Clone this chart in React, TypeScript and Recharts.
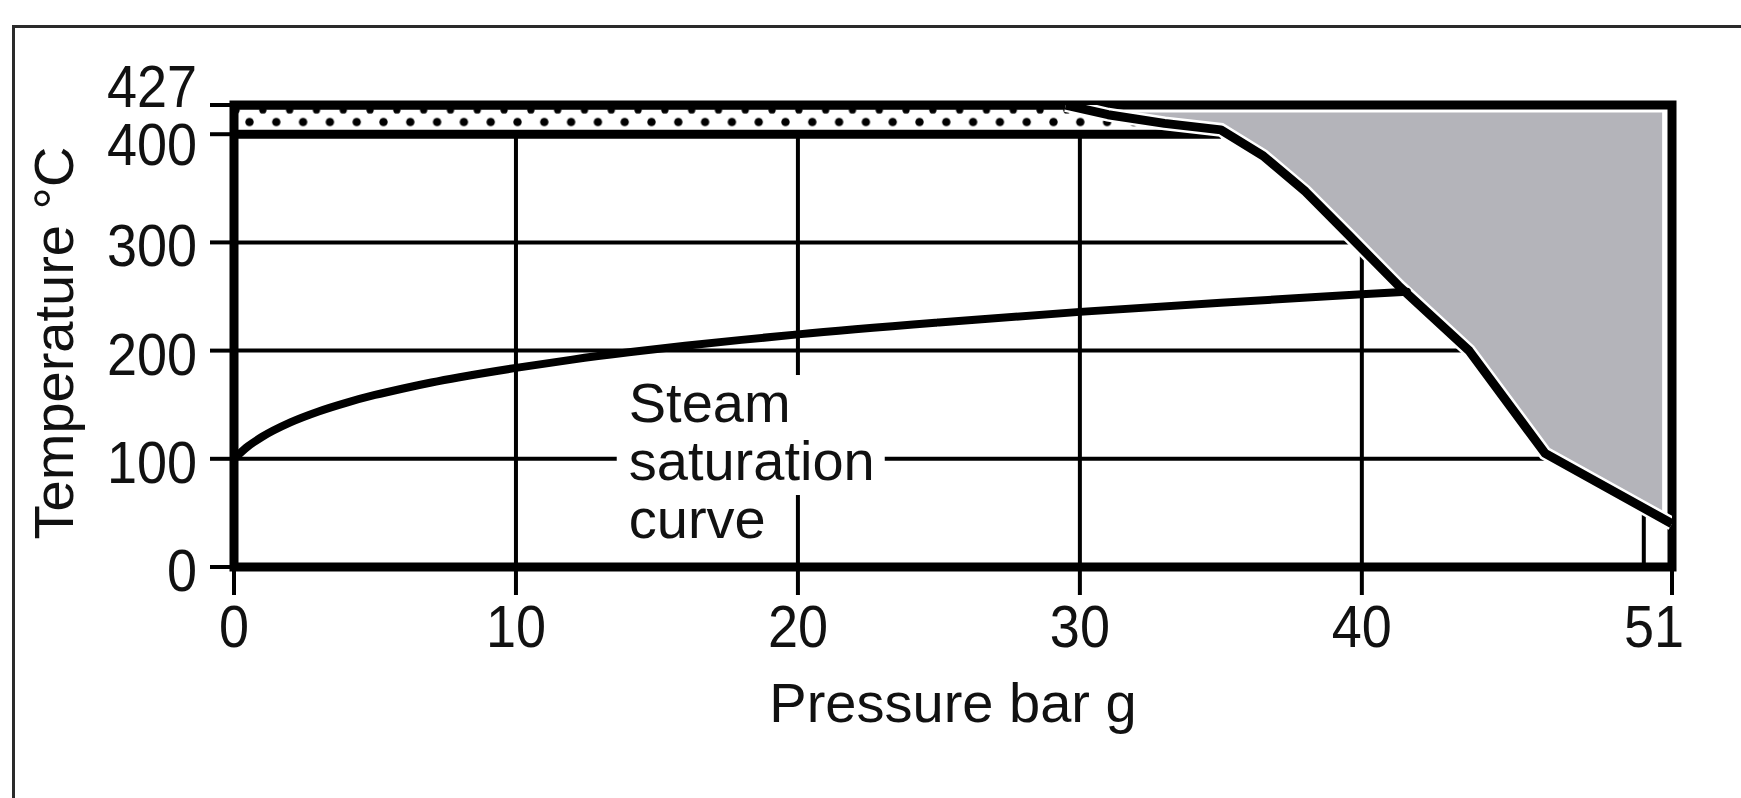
import {
  ComposedChart,
  Area,
  Line,
  XAxis,
  YAxis,
  CartesianGrid,
  ReferenceArea,
  ReferenceDot,
  Label,
} from "recharts";

const FONT = '"Liberation Sans", Arial, Helvetica, sans-serif';

// axis ticks
const xTicks = [0, 10, 20, 30, 40, 51];
const yTicks = [0, 100, 200, 300, 400, 427];
const gridX = [10, 20, 30, 40, 50];
const gridY = [100, 200, 300];

// steam saturation curve (bar g / degC)
const satPressure = [0, 0.5, 1, 2, 3, 4, 5, 6, 7, 8, 10, 12, 14, 16, 18, 20, 25, 30, 35, 40, 41.6];
const satTemp = [100, 111.6, 120.4, 133.7, 143.8, 152, 159, 165, 170.5, 175.4, 184, 191.7, 198.4, 204.4, 209.9, 215, 226, 235.8, 244.3, 252, 254.5];

// upper limit curve of the allowed region
const limitPressure = [29.5, 31, 33, 35, 36.5, 38, 39.6, 41.3, 43.8, 46.5, 51];
const limitTemp = [427, 418, 410, 404, 380, 347, 305, 260, 200, 105, 40];

// dotted band 400..427
const bandPressure = [0, 29.5, 31, 35];
const bandTop = [427, 427, 418, 404];
const bandBottom = 400;

// grey (not permitted) region
const greyPressure = [31, 33, 35, 36.5, 38, 39.6, 41.3, 43.8, 46.5, 50.65];
const greyLow = [418, 410, 404, 380, 347, 305, 260, 200, 105, 44];
const greyHigh = 420;

const satData = satPressure.map((p, i) => ({ p, t: satTemp[i] }));
const limitData = limitPressure.map((p, i) => ({ p, t: limitTemp[i] }));
const maskData = limitPressure.map((p, i) => ({ p, r: [limitTemp[i], 427] }));
const bandData = bandPressure.map((p, i) => ({ p, r: [bandBottom, bandTop[i]] }));
const greyData = greyPressure.map((p, i) => ({ p, r: [greyLow[i], greyHigh] }));

// tick numbers in the original are a little narrower than Arial
const Num = ({ x, y, anchor, children }: any) => (
  <text
    transform={`translate(${x}, ${y}) scale(0.9, 1)`}
    textAnchor={anchor}
    fontSize={60}
    fontFamily={FONT}
    fill="#111"
  >
    {children}
  </text>
);

const XTick = ({ x, y, payload }: any) => {
  const shift = payload.value === 51 ? -18 : 0;
  return (
    <Num x={x + shift} y={y + 50} anchor="middle">
      {payload.value}
    </Num>
  );
};

const YTick = ({ x, y, payload }: any) => {
  let shift = 3;
  if (payload.value === 427) shift = -19;
  if (payload.value === 400) shift = 10;
  return (
    <Num x={x} y={y + shift + 21} anchor="end">
      {payload.value}
    </Num>
  );
};

const SteamLabel = ({ cx, cy }: any) => (
  <g>
    <rect x={cx - 12} y={cy - 47} width={268} height={120} fill="#fff" />
    <rect x={cx - 12} y={cy + 73} width={160} height={60} fill="#fff" />
    <text fontSize={56} fontFamily={FONT} fill="#111">
      <tspan x={cx} y={cy}>Steam</tspan>
      <tspan x={cx} y={cy + 58}>saturation</tspan>
      <tspan x={cx} y={cy + 116}>curve</tspan>
    </text>
  </g>
);

export default function App() {
  return (
    <div
      style={{
        position: "absolute",
        left: 0,
        top: 0,
        width: 1741,
        height: 798,
        overflow: "hidden",
        background: "#fff",
      }}
    >
      <div
        style={{
          position: "absolute",
          left: 12,
          top: 25,
          width: 2000,
          height: 2000,
          border: "3px solid #2a2a2a",
        }}
      />
      <div style={{ position: "absolute", left: 0, top: 0 }}>
        <ComposedChart
          width={1741}
          height={798}
          margin={{ top: 105, right: 69, bottom: 101, left: 0 }}
        >
          <defs>
            <pattern id="dots" patternUnits="userSpaceOnUse" x={236.1} y={105} width={26.8} height={29.2}>
              <rect x={0} y={0} width={26.8} height={29.2} fill="#fff" />
              <circle cx={13.4} cy={17} r={4.2} fill="#000" />
              <circle cx={0} cy={5} r={3.6} fill="#000" />
              <circle cx={26.8} cy={5} r={3.6} fill="#000" />
            </pattern>
          </defs>
          <XAxis
            dataKey="p"
            type="number"
            domain={[0, 51]}
            ticks={xTicks}
            allowDataOverflow
            axisLine={false}
            tickLine={{ stroke: "#000", strokeWidth: 4 }}
            tickSize={28}
            tickMargin={2}
            height={130}
            tick={<XTick />}
          >
            <Label
              content={({ viewBox }: any) => (
                <text
                  x={viewBox.x + viewBox.width / 2}
                  y={viewBox.y + 155}
                  textAnchor="middle"
                  fontSize={56}
                  fontFamily={FONT}
                  fill="#111"
                >
                  Pressure bar g
                </text>
              )}
            />
          </XAxis>
          <YAxis
            type="number"
            domain={[0, 427]}
            ticks={yTicks}
            allowDataOverflow
            axisLine={false}
            tickLine={{ stroke: "#000", strokeWidth: 4 }}
            tickSize={24}
            tickMargin={13}
            width={234}
            tick={<YTick />}
          >
            <Label
              content={({ viewBox }: any) => {
                const lx = viewBox.x + 73;
                const ly = viewBox.y + viewBox.height / 2 + 7;
                return (
                  <text
                    x={lx}
                    y={ly}
                    transform={`rotate(-90, ${lx}, ${ly})`}
                    textAnchor="middle"
                    fontSize={56}
                    fontFamily={FONT}
                    fill="#111"
                  >
                    Temperature °C
                  </text>
                );
              }}
            />
          </YAxis>
          <CartesianGrid
            stroke="#000"
            strokeWidth={4}
            verticalValues={gridX}
            horizontalValues={gridY}
          />
          <Area
            data={maskData}
            dataKey="r"
            type="linear"
            fill="#fff"
            fillOpacity={1}
            stroke="none"
            isAnimationActive={false}
          />
          <Area
            data={greyData}
            dataKey="r"
            type="linear"
            fill="#b4b4ba"
            fillOpacity={1}
            stroke="none"
            isAnimationActive={false}
          />
          <Area
            data={bandData}
            dataKey="r"
            type="linear"
            fill="url(#dots)"
            fillOpacity={1}
            stroke="#000"
            strokeWidth={9}
            isAnimationActive={false}
          />
          <Line
            data={limitData}
            dataKey="t"
            type="linear"
            stroke="#fff"
            strokeWidth={14}
            dot={false}
            activeDot={false}
            isAnimationActive={false}
          />
          <Line
            data={limitData}
            dataKey="t"
            type="linear"
            stroke="#000"
            strokeWidth={9}
            strokeLinejoin="round"
            dot={false}
            activeDot={false}
            isAnimationActive={false}
          />
          <Line
            data={satData}
            dataKey="t"
            type="monotone"
            stroke="#000"
            strokeWidth={8}
            strokeLinecap="round"
            dot={false}
            activeDot={false}
            isAnimationActive={false}
          />
          <ReferenceDot x={14} y={134} r={0} shape={(p: any) => <SteamLabel cx={p.cx} cy={p.cy} />} />
          <ReferenceArea
            x1={0}
            x2={51}
            y1={0}
            y2={427}
            fill="none"
            stroke="#000"
            strokeWidth={9}
            ifOverflow="visible"
          />
        </ComposedChart>
      </div>
    </div>
  );
}
